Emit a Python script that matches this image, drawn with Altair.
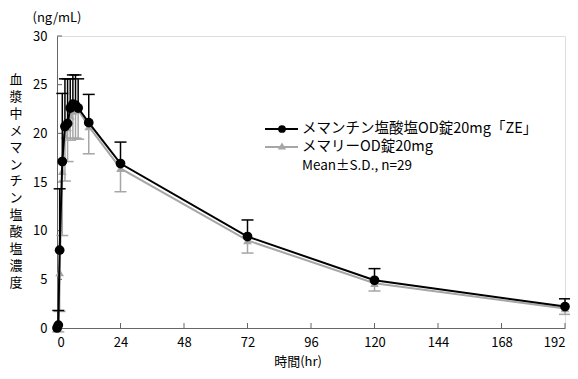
import altair as alt
import pandas as pd

times = [0, 0.5, 1, 2, 3, 4, 5, 6, 7, 8, 12, 24, 72, 120, 192]
ze_mean = [0, 0.3, 8.0, 17.1, 20.7, 21.0, 22.6, 23.0, 22.9, 22.6, 21.1, 16.9, 9.4, 4.9, 2.2]
ze_sd = [0, 1.5, 6.3, 7.0, 4.9, 4.6, 3.0, 3.0, 3.1, 3.0, 2.9, 2.2, 1.7, 1.2, 0.8]
mem_mean = [0, 0.1, 5.7, 16.1, 19.8, 20.6, 21.8, 22.3, 22.5, 22.4, 20.7, 16.4, 9.0, 4.6, 2.0]
mem_sd = [0, 0.5, 4.0, 6.6, 4.7, 3.5, 2.5, 2.8, 3.0, 3.0, 2.8, 2.4, 1.3, 0.8, 0.6]

x_ticks = [0, 24, 48, 72, 96, 120, 144, 168, 192]
y_ticks = [0, 5, 10, 15, 20, 25, 30]
legend_labels = ["メマンチン塩酸塩OD錠20mg「ZE」", "メマリーOD錠20mg", "Mean±S.D., n=29"]
y_title = "血漿中メマンチン塩酸塩濃度"
unit_label = "(ng/mL)"
x_title = "時間(hr)"

FONT = "Noto Sans CJK JP"
BLACK = "#000000"
GRAY = "#a6a6a6"
AXIS = "#666666"
W, H = 508, 292

ze = pd.DataFrame({"t": times, "m": ze_mean, "sd": ze_sd})
ze["hi"] = ze["m"] + ze["sd"]
mem = pd.DataFrame({"t": times, "m": mem_mean, "sd": mem_sd})
mem["lo"] = mem["m"] - mem["sd"]
ze_e = ze[ze["sd"] > 0]
mem_e = mem[mem["sd"] > 0]

xs = alt.Scale(domain=[0, 192], nice=False, zero=True)
ys = alt.Scale(domain=[0, 30], nice=False)

X = alt.X("t:Q", scale=xs, axis=alt.Axis(
    values=x_ticks, ticks=False, grid=False, domainColor=AXIS, domainWidth=1,
    labelFont=FONT, labelFontSize=13, labelColor="#000", labelPadding=8, title=None))
Y = alt.Y("m:Q", scale=ys, axis=alt.Axis(
    values=y_ticks, ticks=False, grid=False, domainColor=AXIS, domainWidth=1,
    labelFont=FONT, labelFontSize=13, labelColor="#000", labelPadding=10, title=None))

# gray series
mem_bar = alt.Chart(mem_e).mark_rule(color=GRAY, strokeWidth=1.5).encode(x=alt.X("t:Q", scale=xs), y=alt.Y("lo:Q", scale=ys), y2="m:Q")
mem_cap = alt.Chart(mem_e).mark_rule(color=GRAY, strokeWidth=1.5, xOffset=-6, x2Offset=6).encode(x=alt.X("t:Q", scale=xs), x2="t:Q", y=alt.Y("lo:Q", scale=ys))
mem_line = alt.Chart(mem).mark_line(color=GRAY, strokeWidth=2).encode(x=X, y=Y)
mem_pt = alt.Chart(mem).mark_point(shape="triangle-up", filled=True, color=GRAY, opacity=1, size=75).encode(x=alt.X("t:Q", scale=xs), y=alt.Y("m:Q", scale=ys))

# black series
ze_bar = alt.Chart(ze_e).mark_rule(color=BLACK, strokeWidth=1.5).encode(x=alt.X("t:Q", scale=xs), y=alt.Y("m:Q", scale=ys), y2="hi:Q")
ze_cap = alt.Chart(ze_e).mark_rule(color=BLACK, strokeWidth=1.5, xOffset=-6, x2Offset=6).encode(x=alt.X("t:Q", scale=xs), x2="t:Q", y=alt.Y("hi:Q", scale=ys))
ze_line = alt.Chart(ze).mark_line(color=BLACK, strokeWidth=2).encode(x=alt.X("t:Q", scale=xs), y=alt.Y("m:Q", scale=ys))
ze_pt = alt.Chart(ze).mark_point(shape="circle", filled=True, color=BLACK, opacity=1, size=95).encode(x=alt.X("t:Q", scale=xs), y=alt.Y("m:Q", scale=ys))

# inward ticks
xt = alt.Chart(pd.DataFrame({"t": x_ticks})).mark_rule(color=AXIS, strokeWidth=1).encode(
    x=alt.X("t:Q", scale=xs), y=alt.value(H), y2=alt.value(H - 5))
yt = alt.Chart(pd.DataFrame({"v": y_ticks})).mark_rule(color=AXIS, strokeWidth=1).encode(
    y=alt.Y("v:Q", scale=ys), x=alt.value(0), x2=alt.value(5))

one = pd.DataFrame({"a": [0]})
unit = alt.Chart(one).mark_text(font=FONT, fontSize=13, align="center", baseline="middle", color="#000").encode(
    x=alt.value(0), y=alt.value(-18), text=alt.value(unit_label))
xtitle = alt.Chart(one).mark_text(font=FONT, fontSize=13, align="center", baseline="middle", color="#000").encode(
    x=alt.value(241), y=alt.value(H + 34), text=alt.value(x_title))
ytitle = [
    alt.Chart(one).mark_text(font=FONT, fontSize=13, align="center", baseline="middle", color="#000").encode(
        x=alt.value(-41), y=alt.value(44 + 16.9 * i), text=alt.value(ch))
    for i, ch in enumerate(y_title)
]

# legend
lg_line1 = alt.Chart(one).mark_rule(color=BLACK, strokeWidth=2).encode(x=alt.value(208), x2=alt.value(241), y=alt.value(93))
lg_pt1 = alt.Chart(one).mark_point(shape="circle", filled=True, color=BLACK, opacity=1, size=60).encode(x=alt.value(225), y=alt.value(93))
lg_line2 = alt.Chart(one).mark_rule(color=GRAY, strokeWidth=2).encode(x=alt.value(208), x2=alt.value(241), y=alt.value(111))
lg_pt2 = alt.Chart(one).mark_point(shape="triangle-up", filled=True, color=GRAY, opacity=1, size=70).encode(x=alt.value(225), y=alt.value(110))
lg_t1 = alt.Chart(one).mark_text(font=FONT, fontSize=14.5, align="left", baseline="middle", color="#000").encode(
    x=alt.value(245), y=alt.value(93), text=alt.value(legend_labels[0]))
lg_t2 = alt.Chart(one).mark_text(font=FONT, fontSize=14.5, align="left", baseline="middle", color="#000").encode(
    x=alt.value(245), y=alt.value(111), text=alt.value(legend_labels[1]))
lg_t3 = alt.Chart(one).mark_text(font=FONT, fontSize=13.5, align="left", baseline="middle", color="#000").encode(
    x=alt.value(245), y=alt.value(130), text=alt.value(legend_labels[2]))

chart = alt.layer(
    mem_line, xt, yt, mem_bar, mem_cap, mem_pt, ze_bar, ze_cap, ze_line, ze_pt,
    unit, xtitle, *ytitle, lg_line1, lg_pt1, lg_line2, lg_pt2, lg_t1, lg_t2, lg_t3
).properties(
    width=W, height=H,
    autosize=alt.AutoSizeParams(type="none"),
    padding={"left": 49, "top": 28, "right": 5, "bottom": 43},
).configure_view(stroke=None).configure(background="white")

chart.save("out.html", embed_options={"renderer": "svg", "actions": False})
